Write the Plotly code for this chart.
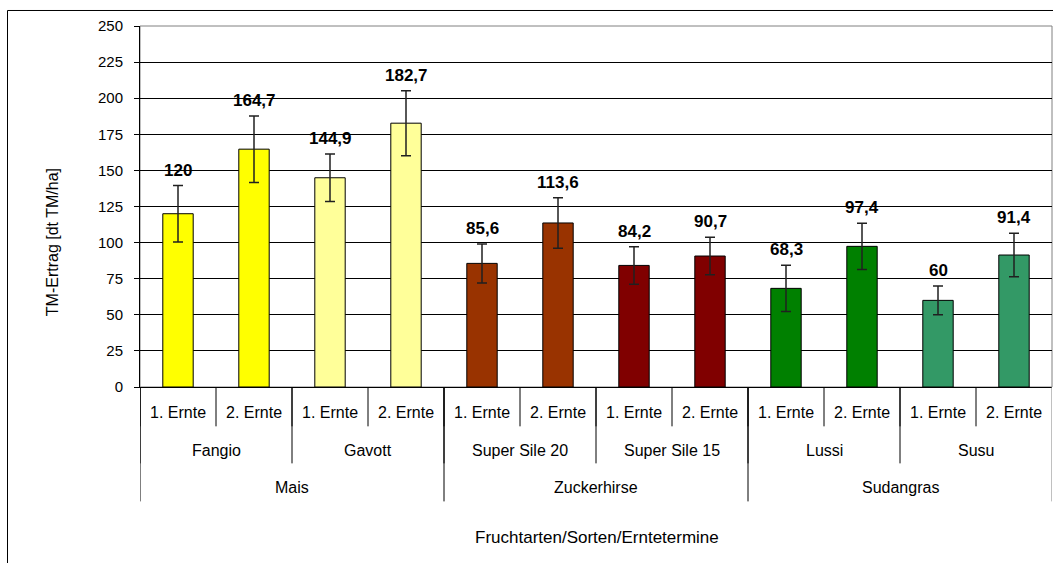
import plotly.graph_objects as go

# ---- data ----
crops = ["Mais", "Zuckerhirse", "Sudangras"]
varieties = ["Fangio", "Gavott", "Super Sile 20", "Super Sile 15", "Lussi", "Susu"]
harvests = ["1. Ernte", "2. Ernte"]
values = [120, 164.7, 144.9, 182.7, 85.6, 113.6, 84.2, 90.7, 68.3, 97.4, 60, 91.4]
errors = [19.5, 23, 16.5, 22.5, 13.5, 17.5, 13, 13, 16, 16, 10, 15]
variety_colors = ["#FFFF00", "#FFFF99", "#993300", "#800000", "#008000", "#339966"]
y_ticks = [0, 25, 50, 75, 100, 125, 150, 175, 200, 225, 250]

n = len(values)
nh = len(harvests)
vars_per_crop = len(varieties) // len(crops)
xs = list(range(n))
bar_colors = [variety_colors[i // nh] for i in xs]

def fmt(v):
    return ("%g" % v).replace(".", ",")

# pixel geometry helpers (plot area 140..1052 x, 26..386.7 y)
W, H = 1053, 563
L, R, T, B = 140, 1, 26, 176.3
ph = H - T - B

def py(p):  # pixel y -> paper y
    return (H - B - p) / ph

def px(p):
    return (p - L) / (W - L - R)

FONT = "Liberation Sans, Arial"
fig = go.Figure()
fig.add_trace(go.Bar(
    x=xs, y=values, width=0.4,
    marker=dict(color=bar_colors, line=dict(color="#000000", width=1)),
    error_y=dict(type="data", array=errors, visible=True, color="#202020", thickness=1.5, width=5),
    hoverinfo="y", showlegend=False,
))

ann = []
shapes = []
# value labels
for i, (v, e) in enumerate(zip(values, errors)):
    ann.append(dict(x=i, y=v + e, xref="x", yref="y", text="<b>%s</b>" % fmt(v),
                    showarrow=False, xanchor="center", yanchor="bottom", yshift=4,
                    font=dict(family=FONT, size=17, color="#000")))

lab_font = dict(family=FONT, size=16, color="#000")
# level 1: harvest labels and dividers
for i in xs:
    ann.append(dict(x=i, y=py(412), xref="x", yref="paper", text=harvests[i % nh],
                    showarrow=False, xanchor="center", yanchor="middle", font=lab_font))
    shapes.append(dict(type="line", xref="x", yref="paper", x0=i - 0.5, x1=i - 0.5,
                       y0=0, y1=py(426), line=dict(color="#000", width=1)))
# level 2: variety labels
for j, name in enumerate(varieties):
    c = j * nh + (nh - 1) / 2
    ann.append(dict(x=c, y=py(450), xref="x", yref="paper", text=name,
                    showarrow=False, xanchor="center", yanchor="middle", font=lab_font))
    shapes.append(dict(type="line", xref="x", yref="paper", x0=j * nh - 0.5, x1=j * nh - 0.5,
                       y0=0, y1=py(463), line=dict(color="#000", width=1)))
# level 3: crops
per = nh * vars_per_crop
for k, name in enumerate(crops):
    c = k * per + (per - 1) / 2
    ann.append(dict(x=c, y=py(487), xref="x", yref="paper", text=name,
                    showarrow=False, xanchor="center", yanchor="middle", font=lab_font))
    shapes.append(dict(type="line", xref="x", yref="paper", x0=k * per - 0.5, x1=k * per - 0.5,
                       y0=0, y1=py(501), line=dict(color="#000", width=1)))
shapes.append(dict(type="line", xref="x", yref="paper", x0=n - 0.5, x1=n - 0.5,
                   y0=0, y1=py(501), line=dict(color="#808080", width=1)))

# axis titles
ann.append(dict(x=px(597), y=py(537), xref="paper", yref="paper", text="Fruchtarten/Sorten/Erntetermine",
                showarrow=False, xanchor="center", yanchor="middle",
                font=dict(family=FONT, size=17, color="#000")))
ann.append(dict(x=px(52), y=py(242), xref="paper", yref="paper", text="TM-Ertrag [dt TM/ha]",
                textangle=-90, showarrow=False, xanchor="center", yanchor="middle",
                font=dict(family=FONT, size=16, color="#000")))

# plot area border (gray top/right)
shapes.append(dict(type="rect", xref="paper", yref="paper", x0=0, x1=1, y0=0, y1=1,
                   line=dict(color="#808080", width=1), layer="below"))
# outer chart border
shapes.append(dict(type="rect", xref="paper", yref="paper", x0=px(7.5), x1=1.2, y0=-0.8, y1=py(10.5),
                   line=dict(color="#000", width=1)))

fig.update_layout(
    width=W, height=H,
    margin=dict(l=L, r=R, t=T, b=B),
    paper_bgcolor="white", plot_bgcolor="white",
    annotations=ann, shapes=shapes,
    font=dict(family=FONT, size=15, color="#000"),
    xaxis=dict(range=[-0.5, n - 0.5], showticklabels=False, showgrid=False, zeroline=False,
               showline=True, linecolor="#000", linewidth=1, ticks=""),
    yaxis=dict(range=[0, 250], tickvals=y_ticks, showgrid=True, gridcolor="#000", gridwidth=1,
               zeroline=False, showline=True, linecolor="#000", linewidth=1,
               ticks="outside", ticklen=5, tickcolor="#000", ticklabelstandoff=8,
               tickfont=dict(family=FONT, size=15, color="#000")),
)

fig.write_html("out.html", config={"displayModeBar": False},
               post_script="document.body.style.margin='0';document.body.style.overflow='hidden';")
